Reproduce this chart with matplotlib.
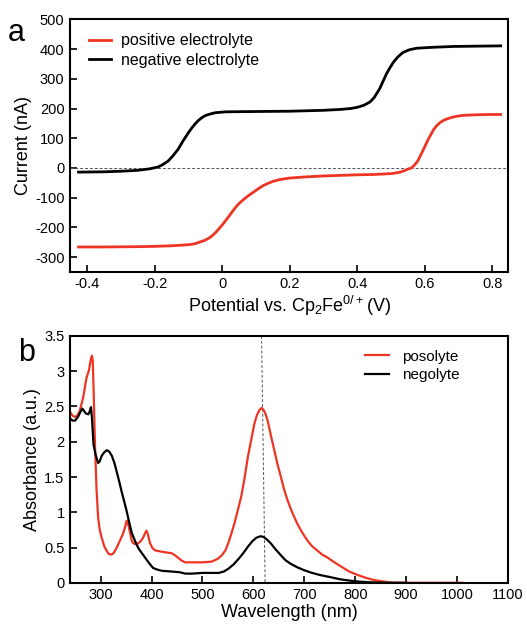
import matplotlib
matplotlib.use('Agg')
import matplotlib.pyplot as plt

plt.rcParams['font.family'] = ['Liberation Sans', 'DejaVu Sans']
plt.rcParams['mathtext.default'] = 'regular'
plt.rcParams['axes.unicode_minus'] = False

# panel a: voltammetry, potential (V) vs current (nA)
pos_v = [-0.425, -0.35, -0.3, -0.25, -0.2, -0.15, -0.12, -0.096, -0.08, -0.067, -0.05,
         -0.037, -0.027, -0.017, -0.008, 0.002, 0.012, 0.022, 0.032, 0.042, 0.052, 0.062,
         0.076, 0.091, 0.106, 0.121, 0.136, 0.151, 0.171, 0.2, 0.25, 0.3, 0.35, 0.4, 0.45,
         0.5, 0.52, 0.53, 0.54, 0.55, 0.561, 0.57, 0.58, 0.596, 0.61, 0.626, 0.636, 0.646,
         0.656, 0.668, 0.68, 0.695, 0.714, 0.75, 0.8, 0.825]
pos_i = [-266, -266, -265.5, -265, -264, -262, -260, -258, -255, -250, -243,
         -235, -226, -215, -203, -190, -175, -160, -145, -130, -118, -108,
         -95, -83, -71, -60, -52, -45, -39, -34, -30, -27, -25, -23, -22,
         -19, -16, -13, -9, -4, 0, 10, 24, 61, 95, 128, 143, 153,
         160, 166, 170, 174, 177, 179, 180, 180]
neg_v = [-0.425, -0.35, -0.3, -0.25, -0.215, -0.19, -0.176, -0.16, -0.146, -0.13, -0.116,
         -0.1, -0.09, -0.08, -0.07, -0.06, -0.05, -0.037, -0.02, 0.012, 0.1, 0.2, 0.3, 0.35,
         0.38, 0.4, 0.42, 0.438, 0.45, 0.467, 0.477, 0.487, 0.497, 0.507, 0.52, 0.536,
         0.555, 0.576, 0.62, 0.685, 0.75, 0.825]
neg_i = [-14, -13, -11, -8, -3, 3, 11, 23, 40, 63, 90,
         118, 134, 148, 160, 169, 176, 181, 186, 189, 190, 191, 194, 197,
         200, 204, 211, 222, 236, 267, 292, 317, 337, 355, 373, 389,
         398, 403, 406, 409, 410, 411]

# panel b: UV-vis absorbance
wl_pos = [240, 245, 250, 255, 259, 263, 266, 269, 272, 275, 277, 279, 281, 283, 284.5,
          286, 287, 289, 292, 295, 298, 302, 307, 312, 316, 320, 324, 328, 333, 338,
          343, 346, 349, 351, 353, 355, 358, 361, 364, 368, 374, 380, 384, 387, 390,
          393, 397, 402, 407, 420, 439, 446, 453, 460, 466, 480, 500, 518, 530, 538,
          545, 550, 556, 563, 569, 576, 583, 589, 596, 602, 607, 612, 616, 620, 624,
          628, 634, 641, 647, 654, 660, 667, 676, 686, 696, 706, 715, 725, 735, 745,
          755, 770, 788, 805, 821, 836, 853, 870, 882, 950, 1010]
abs_pos = [2.42, 2.37, 2.35, 2.38, 2.44, 2.55, 2.64, 2.77, 2.90, 2.97, 3.01, 3.10, 3.18,
           3.22, 3.15, 2.80, 2.49, 1.93, 1.31, 0.93, 0.76, 0.64, 0.52, 0.45, 0.41, 0.40,
           0.41, 0.45, 0.52, 0.60, 0.68, 0.74, 0.82, 0.88, 0.86, 0.80, 0.70, 0.60, 0.56,
           0.55, 0.56, 0.60, 0.65, 0.70, 0.74, 0.68, 0.56, 0.49, 0.46, 0.44, 0.42, 0.39,
           0.35, 0.31, 0.29, 0.29, 0.29, 0.30, 0.34, 0.39, 0.46, 0.55, 0.68, 0.85, 1.02,
           1.22, 1.50, 1.78, 2.04, 2.26, 2.38, 2.45, 2.48, 2.45, 2.39, 2.30, 2.10, 1.88,
           1.69, 1.50, 1.33, 1.17, 1.00, 0.84, 0.71, 0.60, 0.52, 0.46, 0.40, 0.36, 0.31,
           0.24, 0.16, 0.11, 0.07, 0.04, 0.02, 0.005, 0.0, 0.0, 0.0]
wl_neg = [240, 245, 250, 256, 260, 264, 268, 271, 276, 279, 281, 283, 286, 290, 295,
          298, 302, 307, 312, 317, 322, 327, 331, 336, 341, 346, 351, 356, 361, 366,
          370, 375, 381, 387, 395, 403, 410, 420, 439, 455, 466, 480, 500, 520, 532,
          542, 551, 561, 571, 580, 590, 598, 606, 614, 620, 627, 634, 644, 654, 663,
          673, 686, 699, 715, 731, 751, 770, 790, 810, 835, 860, 900]
abs_neg = [2.33, 2.30, 2.30, 2.36, 2.42, 2.47, 2.43, 2.40, 2.39, 2.44, 2.49, 2.33, 1.96,
           1.82, 1.70, 1.72, 1.80, 1.85, 1.88, 1.86, 1.80, 1.70, 1.59, 1.45, 1.30, 1.16,
           1.02, 0.86, 0.71, 0.62, 0.55, 0.48, 0.42, 0.36, 0.28, 0.21, 0.19, 0.17, 0.16,
           0.15, 0.13, 0.13, 0.14, 0.14, 0.14, 0.16, 0.20, 0.26, 0.34, 0.42, 0.52, 0.59,
           0.64, 0.66, 0.65, 0.61, 0.56, 0.47, 0.39, 0.32, 0.27, 0.22, 0.18, 0.14, 0.11,
           0.08, 0.05, 0.03, 0.015, 0.005, 0.0, 0.0]
peak_x = [616, 623]
peak_y = [3.5, 0]

red = '#ee3524'

fig = plt.figure(figsize=(5.27, 6.28), dpi=100)
ax1 = fig.add_axes([0.133, 0.567, 0.831, 0.403])
ax2 = fig.add_axes([0.133, 0.072, 0.831, 0.393])

ax1.axhline(0, color='#555555', lw=0.7, ls=(0, (3, 2)))
ax1.plot(pos_v, pos_i, color=red, lw=2, label='positive electrolyte')
ax1.plot(neg_v, neg_i, color='black', lw=2, label='negative electrolyte')
ax1.set_xlim(-0.45, 0.847)
ax1.set_ylim(-350, 502)
ax1.set_xticks([-0.4, -0.2, 0, 0.2, 0.4, 0.6, 0.8])
ax1.set_xticklabels(['-0.4', '-0.2', '0', '0.2', '0.4', '0.6', '0.8'])
ax1.set_yticks(range(-300, 501, 100))
ax1.set_xlabel('Potential vs. Cp$_2$Fe$^{0/+}$(V)', fontsize=13, labelpad=2)
ax1.set_ylabel('Current (nA)', fontsize=13, labelpad=2)
ax1.legend(loc='upper left', frameon=False, fontsize=11.5, handlelength=1.4,
           handletextpad=0.6, bbox_to_anchor=(0.01, 1.0), labelspacing=0.3)
fig.text(0.015, 0.935, 'a', fontsize=22)

ax2.plot(peak_x, peak_y, color='#555555', lw=0.7, ls=(0, (3, 2)))
ax2.plot(wl_pos, abs_pos, color=red, lw=1.6, label='posolyte')
ax2.plot(wl_neg, abs_neg, color='black', lw=1.6, label='negolyte')
ax2.set_xlim(240, 1100)
ax2.set_ylim(0, 3.5)
ax2.set_xticks(range(300, 1101, 100))
ax2.set_yticks([0, 0.5, 1, 1.5, 2, 2.5, 3, 3.5])
ax2.set_yticklabels(['0', '0.5', '1', '1.5', '2', '2.5', '3', '3.5'])
ax2.set_xlabel('Wavelength (nm)', fontsize=13, labelpad=1)
ax2.set_ylabel('Absorbance (a.u.)', fontsize=13, labelpad=2)
ax2.legend(loc='upper right', frameon=False, fontsize=11, handlelength=1.6,
           bbox_to_anchor=(0.92, 1.0), labelspacing=0.3)
fig.text(0.035, 0.425, 'b', fontsize=22)

for ax in (ax1, ax2):
    for s in ax.spines.values():
        s.set_linewidth(1.5)
    ax.tick_params(direction='in', length=5, width=1.2, labelsize=10.5, pad=4)

fig.savefig('out.png', dpi=100)
